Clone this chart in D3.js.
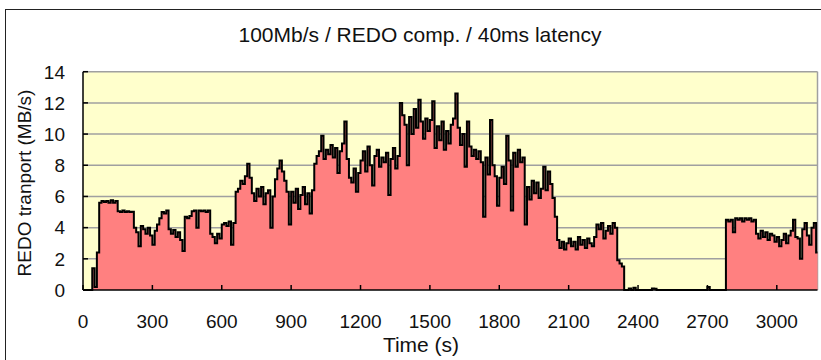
<!DOCTYPE html>
<html>
<head>
<meta charset="utf-8">
<script src="https://cdn.jsdelivr.net/npm/d3@7"></script>
<style>
  body { margin: 0; background: #fff; }
  text { font-family: "Liberation Sans", Arial, sans-serif; fill: #111; }
</style>
</head>
<body>
<div id="chart"></div>
<script>
// REDO transport samples, one every 10 s starting at t = 0
const startTime = 0;
const stepSec = 10;
const redoMBs = [
  0, 0, 0, 0, 1.4, 0.2, 2.4, 5.6, 5.7, 5.65,
  5.7, 5.6, 5.75, 5.6, 5.7, 5.05, 5.0, 5.1, 5.0, 5.05,
  5.0, 5.02, 4.0, 3.7, 2.8, 4.1, 3.9, 3.6, 4.0, 3.5,
  2.9, 3.8, 4.2, 4.6, 5.0, 4.9, 5.1, 3.9, 3.6, 3.85,
  3.4, 3.7, 3.2, 2.5, 4.7, 4.6, 4.75, 5.05, 5.1, 4.0,
  5.1, 5.05, 5.1, 5.0, 5.1, 3.6, 3.4, 3.0, 3.6, 3.3,
  4.2, 4.3, 4.1, 4.4, 2.9, 4.3, 6.3, 6.5, 7.0, 6.8,
  7.3, 8.1, 7.2, 6.2, 5.7, 6.5, 6.0, 6.6, 5.5, 6.2,
  6.4, 4.0, 6.0, 7.1, 7.8, 8.3, 7.6, 7.0, 6.3, 4.2,
  6.3, 5.6, 6.5, 5.2, 6.1, 6.6, 5.5, 6.2, 4.9, 6.4,
  8.1, 8.6, 8.9, 9.9, 8.4, 9.0, 8.7, 9.3, 8.5, 9.1,
  7.5, 8.9, 9.4, 10.8, 8.4, 7.2, 6.9, 7.8, 6.3, 7.5,
  8.3, 8.9, 7.6, 9.2, 8.0, 6.7, 8.6, 9.0, 7.9, 8.5,
  8.2, 8.8, 6.1, 8.4, 9.1, 7.8, 8.6, 12.0, 11.2, 10.6,
  8.0, 11.1, 10.0, 11.6, 10.4, 12.2, 10.8, 9.7, 11.0, 10.2,
  10.9, 12.1, 9.1, 10.5, 9.6, 10.8, 9.0, 10.2, 9.4, 10.6,
  11.0, 12.6, 10.4, 9.3, 10.0, 7.9, 10.8, 9.2, 8.6, 9.0,
  8.4, 8.9, 8.2, 4.7, 8.5, 7.4, 10.9, 8.0, 7.3, 5.4,
  7.2, 7.9, 6.8, 9.9, 8.3, 5.1, 8.8, 7.9, 9.0, 8.2,
  8.5, 4.2, 6.6, 5.8, 7.0, 6.2, 6.9, 5.9, 6.5, 7.9,
  6.4, 7.6, 6.8, 5.9, 4.7, 3.2, 2.7, 3.1, 2.6, 3.0,
  3.3, 2.8, 3.1, 2.6, 3.4, 2.9, 3.2, 2.7, 3.3, 3.0,
  2.8, 3.4, 4.2, 3.9, 4.3, 3.3, 3.8, 4.1, 3.6, 4.3,
  4.0, 1.9, 1.7, 1.5, 0, 0, 0.1, 0, 0.15, 0,
  0, 0, 0, 0, 0, 0, 0.1, 0.08, 0, 0,
  0, 0, 0, 0, 0, 0, 0, 0, 0, 0,
  0, 0, 0, 0, 0, 0, 0, 0, 0, 0,
  0.2, 0, 0, 0, 0, 0, 0, 0, 4.5, 4.4,
  4.5, 3.7, 4.6, 4.5, 4.6, 4.4, 4.6, 4.5, 4.6, 4.4,
  4.5, 3.6, 3.3, 3.8, 3.4, 3.7, 3.2, 3.6, 3.5, 3.1,
  3.4, 2.8, 3.2, 3.6, 3.0, 3.5, 3.8, 4.5, 3.4, 3.3,
  2.0, 3.9, 4.3, 3.5, 2.9, 4.0, 4.3, 2.4
];
const xTicks = [0, 300, 600, 900, 1200, 1500, 1800, 2100, 2400, 2700, 3000];
const yTicks = [0, 2, 4, 6, 8, 10, 12, 14];
const xMax = 3176;
const yMax = 14;

const W = 821, H = 360;
const plot = { left: 83, right: 817.5, top: 71.7, bottom: 290 };

const svg = d3.select("#chart").append("svg")
  .attr("width", W).attr("height", H);

// outer chart frame
svg.append("rect")
  .attr("x", 5.5).attr("y", 9.5)
  .attr("width", 830).attr("height", 400)
  .attr("fill", "#fff").attr("stroke", "#222").attr("stroke-width", 1);

const x = d3.scaleLinear().domain([0, xMax]).range([plot.left, plot.right]);
const y = d3.scaleLinear().domain([0, yMax]).range([plot.bottom, plot.top]);

const points = redoMBs.map((v, i) => ({ t: startTime + i * stepSec, v }));
// hold the last sample up to the right edge
points.push({ t: xMax, v: redoMBs[redoMBs.length - 1] });

// plot background
svg.append("rect")
  .attr("x", plot.left).attr("y", plot.top)
  .attr("width", plot.right - plot.left).attr("height", plot.bottom - plot.top)
  .attr("fill", "#ffffcc");

// gridlines
svg.append("g").selectAll("line")
  .data(yTicks.filter(d => d > 0))
  .join("line")
  .attr("x1", plot.left).attr("x2", plot.right)
  .attr("y1", d => y(d)).attr("y2", d => y(d))
  .attr("stroke", "#a0a0a0").attr("stroke-width", 1.5);

// right border
svg.append("line")
  .attr("x1", plot.right).attr("x2", plot.right)
  .attr("y1", plot.top).attr("y2", plot.bottom)
  .attr("stroke", "#a0a0a0").attr("stroke-width", 1.5);

const area = d3.area()
  .curve(d3.curveStepAfter)
  .x(d => x(d.t))
  .y0(y(0))
  .y1(d => y(d.v));

const line = d3.line()
  .curve(d3.curveStepAfter)
  .x(d => x(d.t))
  .y(d => y(d.v));

svg.append("path")
  .datum(points)
  .attr("d", area)
  .attr("fill", "#ff8080");

svg.append("path")
  .datum(points)
  .attr("d", line)
  .attr("fill", "none")
  .attr("stroke", "#000")
  .attr("stroke-width", 2);

// axes lines
svg.append("line")
  .attr("x1", plot.left).attr("x2", plot.left)
  .attr("y1", plot.top).attr("y2", plot.bottom)
  .attr("stroke", "#000").attr("stroke-width", 1.5);
svg.append("line")
  .attr("x1", plot.left).attr("x2", plot.right)
  .attr("y1", plot.bottom).attr("y2", plot.bottom)
  .attr("stroke", "#000").attr("stroke-width", 1.5);

// tick marks (inside)
svg.append("g").selectAll("line")
  .data(xTicks)
  .join("line")
  .attr("x1", d => x(d)).attr("x2", d => x(d))
  .attr("y1", plot.bottom).attr("y2", plot.bottom - 5)
  .attr("stroke", "#000").attr("stroke-width", 1.5);

svg.append("g").selectAll("line")
  .data(yTicks)
  .join("line")
  .attr("x1", plot.left).attr("x2", plot.left + 5)
  .attr("y1", d => y(d)).attr("y2", d => y(d))
  .attr("stroke", "#000").attr("stroke-width", 1.5);

// tick labels
svg.append("g").selectAll("text")
  .data(xTicks)
  .join("text")
  .attr("x", d => x(d)).attr("y", 328)
  .attr("text-anchor", "middle")
  .style("font-size", "19px")
  .text(d => d);

svg.append("g").selectAll("text")
  .data(yTicks)
  .join("text")
  .attr("x", 65).attr("y", d => y(d))
  .attr("dy", "0.36em")
  .attr("text-anchor", "end")
  .style("font-size", "19px")
  .text(d => d);

// titles
svg.append("text")
  .attr("x", 420).attr("y", 42)
  .attr("text-anchor", "middle")
  .style("font-size", "21px")
  .text("100Mb/s / REDO comp. / 40ms latency");

svg.append("text")
  .attr("x", 421).attr("y", 352)
  .attr("text-anchor", "middle")
  .style("font-size", "21px")
  .text("Time (s)");

svg.append("text")
  .attr("transform", "translate(31,183) rotate(-90)")
  .attr("text-anchor", "middle")
  .style("font-size", "19px")
  .text("REDO tranport (MB/s)");
</script>
</body>
</html>
